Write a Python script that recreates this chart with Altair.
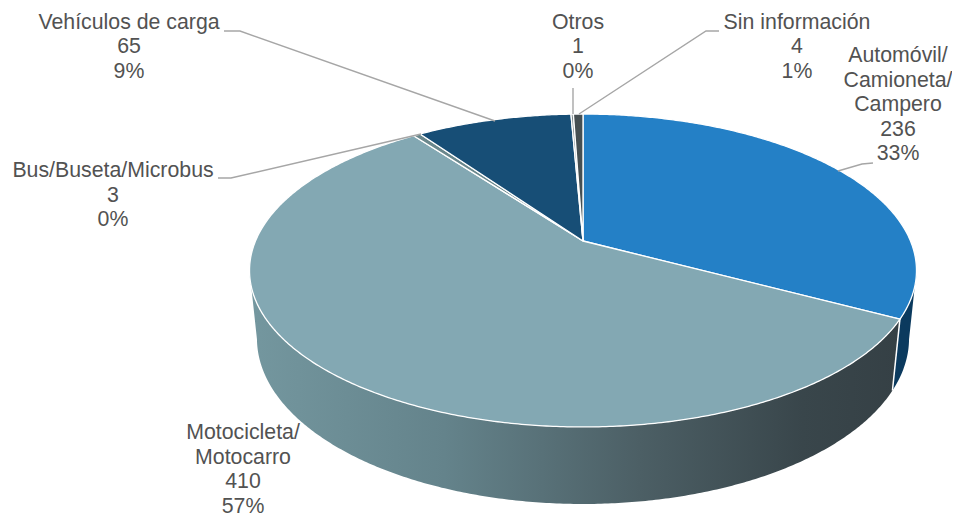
import math
import altair as alt
import pandas as pd

# ---- chart values ----
categories = ["Automóvil/\nCamioneta/\nCampero", "Motocicleta/\nMotocarro", "Bus/Buseta/Microbus",
              "Vehículos de carga", "Otros", "Sin información"]
values = [236, 410, 3, 65, 1, 4]
percents = ["33%", "57%", "0%", "9%", "0%", "1%"]
colors = ["#2480C6", "#83A8B3", "#6A878C", "#174E76", "#7d8a8c", "#454F52"]

# ---- layout (pixel-like plot space) ----
W, H = 944, 510
CX, CY = 583.0, 241.0
A, B, K = 327.5, 150.9, 0.1885
M, D = 0.022, 68.3
FONT = "Liberation Sans"
label_pos = [(898, 56), (243, 433), (113, 171), (129, 22.5), (578, 22.5), (797, 22.5)]
LINE_H = 24.6
leaders = [
    [(873, 163), (862, 164), (838, 171)],
    [(218, 178), (231, 178), (421, 134)],
    [(224, 31), (240, 31), (495, 121)],
    [(573, 88), (573, 114)],
    [(719, 31), (706, 31), (579, 114)],
]

def top(deg):
    t = math.radians(deg)
    u, v = math.sin(t), math.cos(t)
    w = 1 + K * v
    return CX + A * u / w, CY - B * v / w

def bottom(deg):
    t = math.radians(deg)
    u, v = math.sin(t), math.cos(t)
    w = 1 + M + K * v
    return CX + A * u / w, CY - (B * v - D) / w

total = sum(values)
edges = [0.0]
for val in values:
    edges.append(edges[-1] + val / total * 360)

def sweep(a, b, step=0.5):
    n = max(2, int(abs(b - a) / step) + 1)
    return [a + (b - a) * i / (n - 1) for i in range(n)]

def frame(points):
    return pd.DataFrame([{"x": p[0], "y": p[1], "i": i} for i, p in enumerate(points)])

xs = alt.Scale(domain=[8, 8 + W], nice=False, zero=False)
ys = alt.Scale(domain=[8 + H, 8], nice=False, zero=False)
X = alt.X("x:Q", scale=xs, axis=None)
Y = alt.Y("y:Q", scale=ys, axis=None)

def poly(points, **mark):
    return alt.Chart(frame(points)).mark_line(**mark).encode(x=X, y=Y, order=alt.Order("i:Q"))

layers = []

# side walls
RIGHT, LEFT = 100.9, 259.1
b1 = edges[1]
wall_blue = [top(a) for a in sweep(RIGHT, b1)] + [bottom(a) for a in sweep(b1, RIGHT)]
wall_teal = [top(a) for a in sweep(b1, LEFT)] + [bottom(a) for a in sweep(LEFT, b1)]
gradient = alt.Gradient(
    gradient="linear", x1=0, x2=1, y1=0, y2=0,
    stops=[
        alt.GradientStop(offset=0, color="#74979F"),
        alt.GradientStop(offset=0.3, color="#64838B"),
        alt.GradientStop(offset=0.6, color="#4C5F65"),
        alt.GradientStop(offset=0.85, color="#39464B"),
        alt.GradientStop(offset=1, color="#354045"),
    ],
)
layers.append(poly(wall_teal + wall_teal[:1], fill=gradient, strokeWidth=0))
layers.append(poly(wall_blue + wall_blue[:1], fill="#0B3A5E", strokeWidth=0))
layers.append(poly([top(b1), bottom(b1)], stroke="#FFFFFF", strokeWidth=1.5))

# top face
apex = (CX, CY)
for idx, col in enumerate(colors):
    pts = [apex] + [top(a) for a in sweep(edges[idx], edges[idx + 1])] + [apex]
    layers.append(poly(pts, fill=col, stroke="#FFFFFF", strokeWidth=1.3))

# leader lines
for seg in leaders:
    layers.append(poly(seg, stroke="#A6A6A6", strokeWidth=1.4))

# labels
rows = []
for cat, val, pct, pos in zip(categories, values, percents, label_pos):
    lines = cat.split("\n") + [str(val), pct]
    for j, line in enumerate(lines):
        rows.append({"x": pos[0], "y": pos[1] + j * LINE_H, "t": line})
layers.append(
    alt.Chart(pd.DataFrame(rows))
    .mark_text(font=FONT, fontSize=21.3, color="#525252", align="center", baseline="middle")
    .encode(x=X, y=Y, text="t:N")
)

chart = (
    alt.layer(*layers)
    .properties(width=W, height=H, padding=0, autosize=alt.AutoSizeParams(type="none"),
                background="#FFFFFF")
    .configure_view(stroke=None)
)
chart.save("out.html", embed_options={"renderer": "svg", "actions": False})
